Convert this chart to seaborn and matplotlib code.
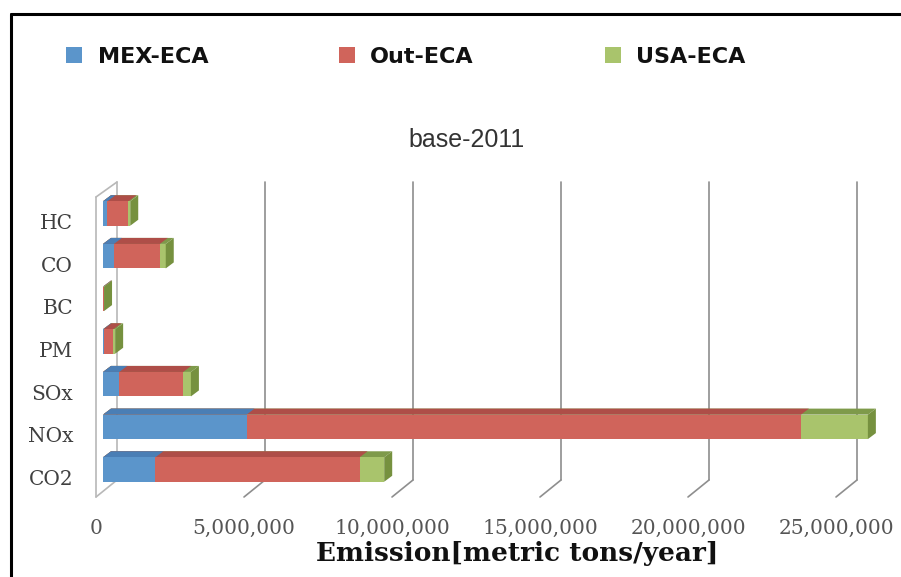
import matplotlib
matplotlib.use("Agg")
import matplotlib.pyplot as plt
from matplotlib.patches import Polygon, Patch
from matplotlib.lines import Line2D
from matplotlib.transforms import ScaledTranslation
import pandas as pd
import seaborn as sns

# Ship emissions by pollutant and region, base year 2011 (metric tons/year)
pollutants = ["HC", "CO", "BC", "PM", "SOx", "NOx", "CO2"]
mex_eca = [150000, 370000, 10000, 20000, 550000, 4850000, 1770000]
out_eca = [710000, 1550000, 20000, 330000, 2160000, 18730000, 6900000]
usa_eca = [60000, 200000, 5000, 60000, 260000, 2260000, 830000]
series_names = ["MEX-ECA", "Out-ECA", "USA-ECA"]
x_ticks = [0, 5000000, 10000000, 15000000, 20000000, 25000000]
x_tick_labels = ["0", "5,000,000", "10,000,000", "15,000,000",
                 "20,000,000", "25,000,000"]

face_colors = ["#5B95CB", "#D0645B", "#A9C46C"]
top_colors = ["#4A7EB5", "#AE4E48", "#7E9A4A"]
side_green = "#76913F"

sns.set_theme(style="white")
plt.rcParams["font.family"] = ["DejaVu Sans"]

W, H = 901, 577
fig = plt.figure(figsize=(W / 100, H / 100), dpi=100)
fig.patch.set_facecolor("white")


def px_box(l, t, r, b):
    return [l / W, 1 - b / H, (r - l) / W, (b - t) / H]


ax = fig.add_axes(px_box(80, 175, 895, 505))
ax.set_facecolor("none")

# pixel <-> data mapping of the plot box
PX_PER_UNIT = 148 / 5000000.0
X0_PX = 103.0
ROW0_PX, ROW_STEP = 213.5, 42.67


def xd(px):
    return (px - X0_PX) / PX_PER_UNIT


def yd(py):
    return (py - ROW0_PX) / ROW_STEP


df = pd.DataFrame({"pollutant": pollutants, "mex": mex_eca,
                   "out": out_eca, "usa": usa_eca})
df["lower"] = df["mex"]
df["mid"] = df["mex"] + df["out"]
df["total"] = df["mid"] + df["usa"]

# back wall, floor and gridlines
grid_c, wall_c = "#8E8E8E", "#B8B8B8"
lw = 1.2
for v in x_ticks:
    fx = X0_PX + v * PX_PER_UNIT
    back, front = fx + 14, fx - 7
    col = wall_c if v == 0 else grid_c
    ax.add_line(Line2D([xd(back), xd(back)], [yd(182), yd(480)], color=col,
                       lw=lw, zorder=1, clip_on=False))
    ax.add_line(Line2D([xd(front), xd(back)], [yd(497), yd(480)], color=col,
                       lw=lw, zorder=1, clip_on=False))
# left side wall
ax.add_line(Line2D([xd(96), xd(96)], [yd(197), yd(497)], color=wall_c, lw=lw,
                   zorder=1, clip_on=False))
ax.add_line(Line2D([xd(96), xd(117)], [yd(197), yd(182)], color=wall_c, lw=lw,
                   zorder=1, clip_on=False))

# stacked bars: cumulative totals drawn back to front
ox = 8 / PX_PER_UNIT
oy = -6 / ROW_STEP
layers = [("total", 2), ("mid", 1), ("lower", 0)]
for col, ci in layers:
    n0 = len(ax.patches)
    sns.barplot(data=df, x=col, y="pollutant", order=pollutants, orient="h",
                color=face_colors[ci], saturation=1, width=0.574,
                errorbar=None, linewidth=0, zorder=3, ax=ax)
    for p in list(ax.patches[n0:]):
        x0, x1 = p.get_x(), p.get_x() + p.get_width()
        yt, yb = p.get_y(), p.get_y() + p.get_height()
        ax.add_patch(Polygon([(x0, yt), (x1, yt), (x1 + ox, yt + oy),
                              (x0 + ox, yt + oy)], closed=True,
                             facecolor=top_colors[ci], edgecolor="none",
                             zorder=2.5))
        if col == "total":
            ax.add_patch(Polygon([(x1, yt), (x1, yb), (x1 + ox, yb + oy),
                                  (x1 + ox, yt + oy)], closed=True,
                                 facecolor=side_green, edgecolor="none",
                                 zorder=3.5))

ax.set_xlim(xd(80), xd(895))
ax.set_ylim(yd(505), yd(175))
for s in ax.spines.values():
    s.set_visible(False)
ax.grid(False)

ax.set_xticks(x_ticks, x_tick_labels)
ax.tick_params(axis="x", length=0, pad=10, labelsize=14.5, labelcolor="#555555")
ax.tick_params(axis="y", length=0, pad=5, labelsize=14.5, labelcolor="#404040")
for lab in ax.get_xticklabels():
    lab.set_fontfamily("DejaVu Serif")
    lab.set_transform(lab.get_transform() +
                      ScaledTranslation(-7 / 100, 0, fig.dpi_scale_trans))
for lab in ax.get_yticklabels():
    lab.set_fontfamily("DejaVu Serif")
    lab.set_transform(lab.get_transform() +
                      ScaledTranslation(0, -8 / 100, fig.dpi_scale_trans))

ax.set_ylabel("")
ax.set_xlabel("Emission[metric tons/year]", fontsize=19, fontweight="bold",
              fontfamily="DejaVu Serif", color="#111111")
ax.xaxis.set_label_coords((517 - 80) / 815, (505 - 541) / 330)
ax.xaxis.label.set_va("top")

fig.text(467 / W, 1 - 140 / H, "base-2011", ha="center", va="center",
         fontsize=18, fontfamily="Liberation Sans", color="#333333")

handles = [Patch(facecolor=c, edgecolor="none") for c in face_colors]
leg = fig.legend(handles, series_names, loc="center", ncol=3, frameon=False,
                 bbox_to_anchor=(406 / W, 1 - 57 / H),
                 prop={"size": 16, "weight": "bold"},
                 handlelength=0.72, handleheight=0.7, handletextpad=0.68,
                 columnspacing=5.9, borderpad=0)
for t in leg.get_texts():
    t.set_color("#111111")

# outer frame (left and top edges)
fig.add_artist(Line2D([11 / W, 11 / W], [0, 1 - 14 / H], color="black",
                      lw=2.2, transform=fig.transFigure))
fig.add_artist(Line2D([11 / W, 1], [1 - 14 / H, 1 - 14 / H], color="black",
                      lw=2.2, transform=fig.transFigure))

fig.savefig("out.png", dpi=100)
